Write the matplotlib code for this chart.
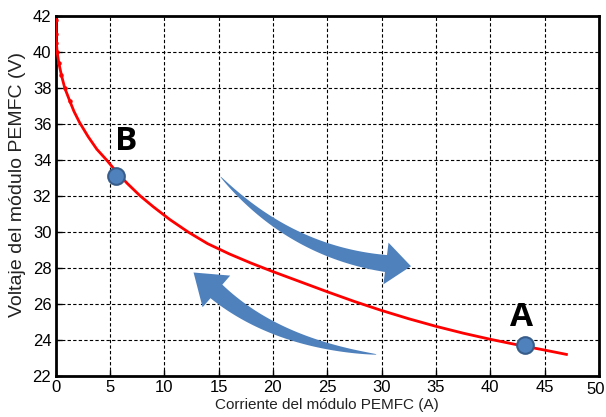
import numpy as np
import matplotlib
matplotlib.use("Agg")
import matplotlib.pyplot as plt
from matplotlib.patches import Polygon

plt.rcParams['font.family'] = ['Liberation Sans', 'DejaVu Sans']

# Polarization curve data (current A, voltage V)
current = [0.0, 0.03, 0.08, 0.15, 0.3, 0.55, 0.85, 1.3, 1.7, 2.2, 3.0, 3.8, 4.7, 5.6,
           6.6, 7.8, 9.0, 10.5, 12.2, 14.0, 16.0, 18.0, 20.0, 22.5, 25.0, 27.5,
           30.0, 32.5, 35.0, 37.5, 40.0, 42.5, 45.0, 47.0]
voltage = [41.8, 41.0, 40.5, 40.0, 39.4, 38.7, 38.0, 37.3, 36.7, 36.1, 35.3, 34.6, 34.0, 33.35,
           32.7, 32.0, 31.4, 30.7, 30.0, 29.35, 28.78, 28.27, 27.8, 27.24, 26.68, 26.14,
           25.64, 25.18, 24.76, 24.38, 24.04, 23.73, 23.44, 23.2]

points_x = [5.6, 43.2]
points_y = [33.1, 23.75]
point_labels = ['B', 'A']

xticks = list(range(0, 51, 5))
yticks = list(range(22, 43, 2))

fig = plt.figure(figsize=(6.06, 4.17), dpi=100)
ax = fig.add_axes([0.0916, 0.0983, 0.8969, 0.8633])
ax.set_xlim(0, 50)
ax.set_ylim(22, 42)
ax.set_xticks(xticks)
ax.set_xticklabels([str(v) for v in xticks[:-1]] + [''])
ax.set_yticks(yticks)
ax.grid(True, color='black', linestyle=(0, (3, 2)), linewidth=0.8)
ax.set_axisbelow(True)
for s in ax.spines.values():
    s.set_linewidth(2)
ax.tick_params(direction='in', length=4, width=1, labelsize=12, pad=3)
# last x tick label nudged slightly left so it stays inside the image
ax.annotate(str(xticks[-1]), xy=(xticks[-1], 0), xycoords=('data', 'axes fraction'),
            xytext=(-2.5, -4), textcoords='offset points', ha='center', va='top',
            fontsize=12)
ax.set_xlabel('Corriente del módulo PEMFC (A)', fontsize=11, labelpad=2, color='#222222')
ax.set_ylabel('Voltaje del módulo PEMFC (V)', fontsize=14, color='#222222')
ax.yaxis.set_label_coords(-0.054, 0.533)

ax.plot(current, voltage, color='red', linewidth=2, zorder=3)
ax.plot(current[:8], voltage[:8], 'o', color='red', markersize=2.2, zorder=3)

ax.plot(points_x, points_y, 'o', markersize=12, markerfacecolor='#4F81BD',
        markeredgecolor='#385D8A', markeredgewidth=1.5, zorder=5)
offsets = [(0.9, 1.0), (-0.3, 0.6)]
for x, y, lab, (dx, dy) in zip(points_x, points_y, point_labels, offsets):
    ax.text(x + dx, y + dy, lab, fontsize=24, fontweight='bold', ha='center', va='bottom',
            family=['Open Sans', 'DejaVu Sans'], zorder=6)


def curved_arrow(ax, p0, p1, p2, tip, w_end, head_w, color='#4F81BD'):
    T = ax.transData
    P0, P1, P2, TP = [np.array(T.transform(p)) for p in (p0, p1, p2, tip)]
    t = np.linspace(0, 1, 60)[:, None]
    B = (1 - t) ** 2 * P0 + 2 * (1 - t) * t * P1 + t ** 2 * P2
    D = 2 * (1 - t) * (P1 - P0) + 2 * t * (P2 - P1)
    D = D / np.linalg.norm(D, axis=1, keepdims=True)
    N = np.column_stack([-D[:, 1], D[:, 0]])
    w = (0.5 + (w_end - 0.5) * t[:, 0] ** 0.8)[:, None] / 2
    left = B + N * w
    right = B - N * w
    nd = N[-1]
    hl = P2 + nd * head_w / 2
    hr = P2 - nd * head_w / 2
    pts = np.vstack([left, hl[None], TP[None], hr[None], right[::-1]])
    inv = T.inverted()
    poly = Polygon(inv.transform(pts), closed=True, facecolor=color, edgecolor='none', zorder=4)
    ax.add_patch(poly)


curved_arrow(ax, (15.2, 33.06), (21.6, 28.9), (30.4, 28.25), (32.7, 28.1), 17, 42)
curved_arrow(ax, (29.5, 23.2), (20.3, 23.8), (14.8, 26.7), (12.7, 27.75), 18, 42)

fig.savefig('out.png', dpi=100)
